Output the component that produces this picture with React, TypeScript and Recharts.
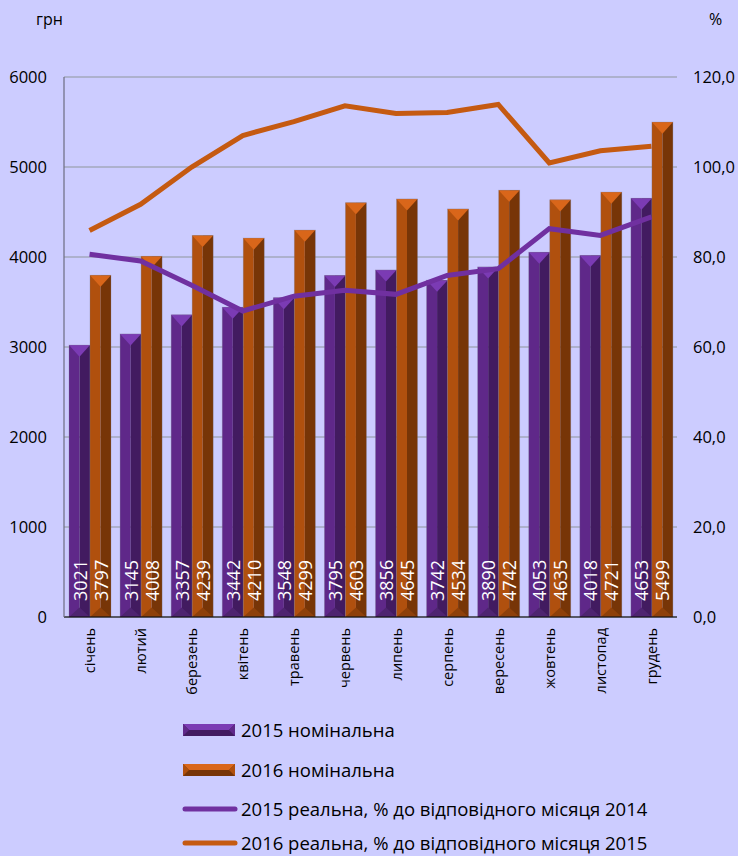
import React from 'react';
import { ComposedChart, Bar, Line, XAxis, YAxis, CartesianGrid, LabelList } from 'recharts';

const months = ['січень', 'лютий', 'березень', 'квітень', 'травень', 'червень', 'липень', 'серпень', 'вересень', 'жовтень', 'листопад', 'грудень'];
const nominal2015 = [3021, 3145, 3357, 3442, 3548, 3795, 3856, 3742, 3890, 4053, 4018, 4653];
const nominal2016 = [3797, 4008, 4239, 4210, 4299, 4603, 4645, 4534, 4742, 4635, 4721, 5499];
const real2015 = [80.6, 79.1, 73.7, 68.0, 71.3, 72.6, 71.7, 75.9, 77.4, 86.3, 84.8, 88.9];
const real2016 = [85.9, 91.7, 100.0, 107.0, 110.1, 113.6, 111.9, 112.1, 113.9, 100.9, 103.6, 104.6];
const leftTicks = [0, 1000, 2000, 3000, 4000, 5000, 6000];
const rightTicks = [0, 20, 40, 60, 80, 100, 120];
const legendLabels = [
  '2015 номінальна',
  '2016 номінальна',
  '2015 реальна, % до відповідного місяця 2014',
  '2016 реальна, % до відповідного місяця 2015',
];

const data = months.map((m, i) => ({
  month: m,
  n2015: nominal2015[i],
  n2016: nominal2016[i],
  r2015: real2015[i],
  r2016: real2016[i],
}));

const FONT = '"Open Sans", sans-serif';

const PURPLE = { light: '#7b3bb4', mid: '#5f2889', dark: '#421b60', bottom: '#4e2470' };
const ORANGE = { light: '#d9661a', mid: '#b0500e', dark: '#773507', bottom: '#8e400a' };

const bevelShape = (c: typeof PURPLE) => (props: any) => {
  const { x, y, width, height } = props;
  if (!height || height <= 0) return null;
  const w = width;
  const d = Math.min(w * 0.55, height / 2);
  const b = Math.min(w * 0.45, height / 2);
  return (
    <g>
      <rect x={x} y={y} width={w / 2} height={height} fill={c.mid} />
      <rect x={x + w / 2} y={y} width={w / 2} height={height} fill={c.dark} />
      <polygon points={`${x},${y} ${x + w},${y} ${x + w / 2},${y + d}`} fill={c.light} />
      <polygon points={`${x},${y + height} ${x + w},${y + height} ${x + w / 2},${y + height - b}`} fill={c.bottom} />
      <rect x={x} y={y} width={w} height={height} fill="none" stroke="rgba(120,120,140,0.35)" strokeWidth={0.8} />
    </g>
  );
};

const barLabel = (props: any) => {
  const { x, y, width, height, value } = props;
  const cx = x + width / 2;
  const by = y + height - 16;
  return (
    <text
      x={cx}
      y={by}
      transform={`rotate(-90 ${cx} ${by})`}
      textAnchor="start"
      dominantBaseline="central"
      fill="#ffffff"
      fontSize={18}
      fontFamily={FONT}
    >
      {value}
    </text>
  );
};

const XTick = (props: any) => {
  const { x, y, payload } = props;
  const ty = y + 3;
  return (
    <text
      x={x}
      y={ty}
      transform={`rotate(-90 ${x} ${ty})`}
      textAnchor="end"
      dominantBaseline="central"
      fill="#000"
      fontSize={14.5}
      fontFamily={FONT}
    >
      {payload.value}
    </text>
  );
};

const LegendIcon = ({ kind }: { kind: number }) => {
  if (kind < 2) {
    const c = kind === 0 ? PURPLE : ORANGE;
    return (
      <svg width={56} height={14} style={{ display: 'block' }}>
        <rect x={2} y={1} width={52} height={12} fill={c.dark} />
        <polygon points="2,1 54,1 48,7 8,7" fill={c.light} />
        <polygon points="2,1 8,7 2,13" fill={c.mid} />
        <polygon points="54,1 48,7 54,13" fill={c.mid} />
      </svg>
    );
  }
  const col = kind === 2 ? '#7030a0' : '#c55a11';
  return (
    <svg width={58} height={10} style={{ display: 'block' }}>
      <line x1={4} y1={5} x2={54} y2={5} stroke={col} strokeWidth={5} strokeLinecap="round" />
    </svg>
  );
};

export default function App() {
  return (
    <div style={{ position: 'relative', width: 738, height: 856, background: '#ccccff', fontFamily: FONT, overflow: 'hidden' }}>
      <style>{`body{margin:0;background:#ccccff;}`}</style>
      <div style={{ position: 'absolute', left: 36, top: 8, fontSize: 16, color: '#000' }}>грн</div>
      <div style={{ position: 'absolute', left: 709, top: 8, fontSize: 16, color: '#000' }}>%</div>
      <div style={{ position: 'absolute', left: 0, top: 0 }}>
        <ComposedChart
          width={738}
          height={715}
          data={data}
          margin={{ top: 77, right: 0, left: 0, bottom: 0 }}
          barCategoryGap={5}
          barGap={0}
        >
          <CartesianGrid yAxisId="left" vertical={false} stroke="#a3a9bd" strokeWidth={1.5} />
          <XAxis
            dataKey="month"
            height={98}
            interval={0}
            tick={<XTick />}
            tickLine={false}
            axisLine={{ stroke: '#000', strokeWidth: 1.2 }}
          />
          <YAxis
            yAxisId="left"
            orientation="left"
            width={64}
            domain={[0, 6000]}
            ticks={leftTicks}
            tickLine={false}
            tickSize={0}
            tickMargin={17}
            axisLine={{ stroke: '#6c6c80', strokeWidth: 1.2 }}
            tick={{ fill: '#000', fontSize: 16.5, fontFamily: FONT }}
          />
          <YAxis
            yAxisId="right"
            orientation="right"
            width={61}
            domain={[0, 120]}
            ticks={rightTicks}
            tickLine={false}
            tickSize={0}
            tickMargin={16}
            axisLine={false}
            tickFormatter={(v: number) => v.toFixed(1).replace('.', ',')}
            tick={{ fill: '#000', fontSize: 16.5, fontFamily: FONT }}
          />
          <Bar yAxisId="left" dataKey="n2015" shape={bevelShape(PURPLE)} isAnimationActive={false}>
            <LabelList dataKey="n2015" content={barLabel} />
          </Bar>
          <Bar yAxisId="left" dataKey="n2016" shape={bevelShape(ORANGE)} isAnimationActive={false}>
            <LabelList dataKey="n2016" content={barLabel} />
          </Bar>
          <Line
            yAxisId="right"
            dataKey="r2015"
            stroke="#7030a0"
            strokeWidth={5}
            dot={false}
            activeDot={false}
            isAnimationActive={false}
          />
          <Line
            yAxisId="right"
            dataKey="r2016"
            stroke="#c55a11"
            strokeWidth={5}
            dot={false}
            activeDot={false}
            isAnimationActive={false}
          />
        </ComposedChart>
      </div>
      {legendLabels.map((lbl, i) => (
        <div
          key={lbl}
          style={{
            position: 'absolute',
            left: 181,
            top: [717, 757, 796, 830][i],
            height: 26,
            display: 'flex',
            alignItems: 'center',
            fontSize: 18.5,
            lineHeight: '24px',
            color: '#000',
            whiteSpace: 'nowrap',
          }}
        >
          <div style={{ width: 60, display: 'flex', justifyContent: 'flex-start' }}>
            <LegendIcon kind={i} />
          </div>
          <span>{lbl}</span>
        </div>
      ))}
    </div>
  );
}
